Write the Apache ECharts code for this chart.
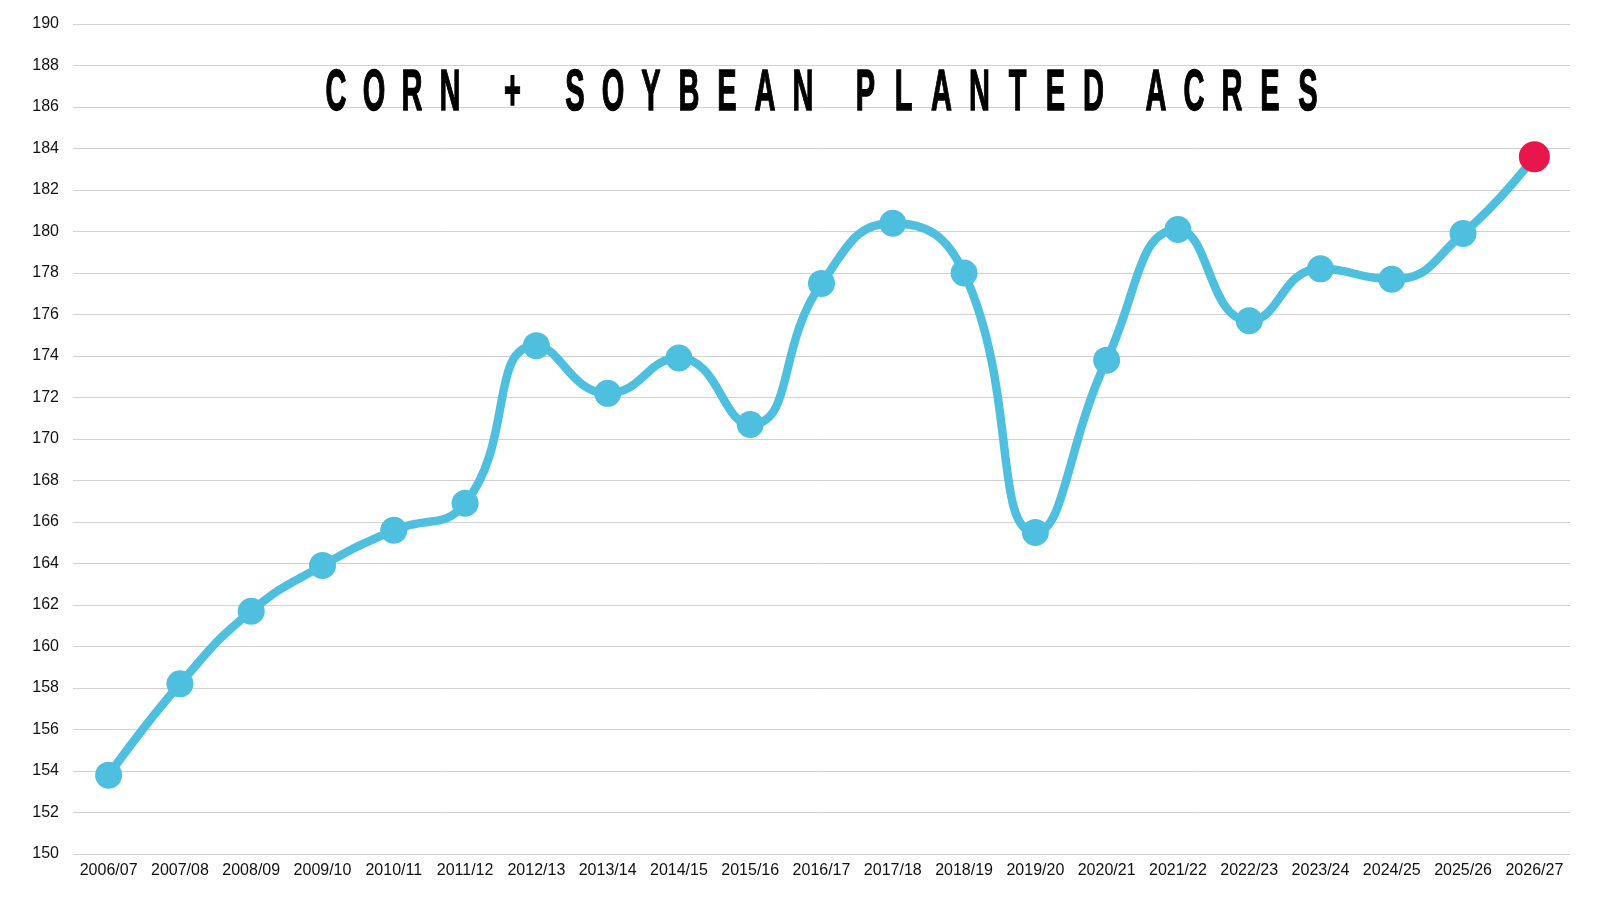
<!DOCTYPE html>
<html><head><meta charset="utf-8">
<script src="https://cdn.jsdelivr.net/npm/echarts@6/dist/echarts.min.js"></script>
<style>html,body{margin:0;padding:0;background:#fff}#c{width:1600px;height:900px}</style>
</head><body><div id="c"></div>
<script>
const categories = ["2006/07","2007/08","2008/09","2009/10","2010/11","2011/12","2012/13","2013/14","2014/15","2015/16","2016/17","2017/18","2018/19","2019/20","2020/21","2021/22","2022/23","2023/24","2024/25","2025/26","2026/27"];
const acres = [153.8,158.2,161.7,163.9,165.6,166.9,174.5,172.2,173.9,170.7,177.5,180.4,178.0,165.5,173.8,180.1,175.7,178.2,177.7,179.9,183.6];
const titleText = "CORN + SOYBEAN PLANTED ACRES";
const highlightIndex = acres.length - 1;

const sx = 0.5;
const rich = {
  c: {width: 38 / sx, align: 'center', fontSize: 58, fontWeight: 'bold', fontFamily: 'Liberation Sans', fill: '#000', stroke: '#000', lineWidth: 1.4, lineHeight: 60},
  s: {width: 24.5 / sx, fontSize: 58, lineHeight: 60}
};
const richText = titleText.split('').map(ch => ch === ' ' ? '{s| }' : '{c|' + ch + '}').join('');

const chart = echarts.init(document.getElementById('c'));
chart.setOption({
  backgroundColor: '#fff',
  animation: false,
  grid: {left: 73, right: 30, top: 24, bottom: 46},
  xAxis: {
    type: 'category', data: categories, boundaryGap: true,
    axisLine: {show: false}, axisTick: {show: false},
    axisLabel: {color: '#111', fontSize: 16, fontFamily: 'Liberation Sans', margin: 9, interval: 0}
  },
  yAxis: {
    type: 'value', min: 150, max: 190, interval: 2,
    axisLine: {show: false}, axisTick: {show: false},
    axisLabel: {color: '#111', fontSize: 16, fontFamily: 'Liberation Sans', margin: 14},
    splitLine: {lineStyle: {color: '#d0d0d0', width: 1}}
  },
  graphic: [{
    type: 'text', x: 822, y: 94, z: 10, scaleX: sx, scaleY: 1,
    style: {text: richText, rich: rich, align: 'center', verticalAlign: 'middle'}
  }],
  series: [{
    type: 'line', data: acres.map((v, i) => i === highlightIndex ? {value: v, symbolSize: 31, itemStyle: {color: '#E8164A'}} : v),
    smooth: 0.5, symbol: 'circle', symbolSize: 27,
    lineStyle: {color: '#4FBFDF', width: 8.5},
    itemStyle: {color: '#4FBFDF'}
  }]
});
</script></body></html>
